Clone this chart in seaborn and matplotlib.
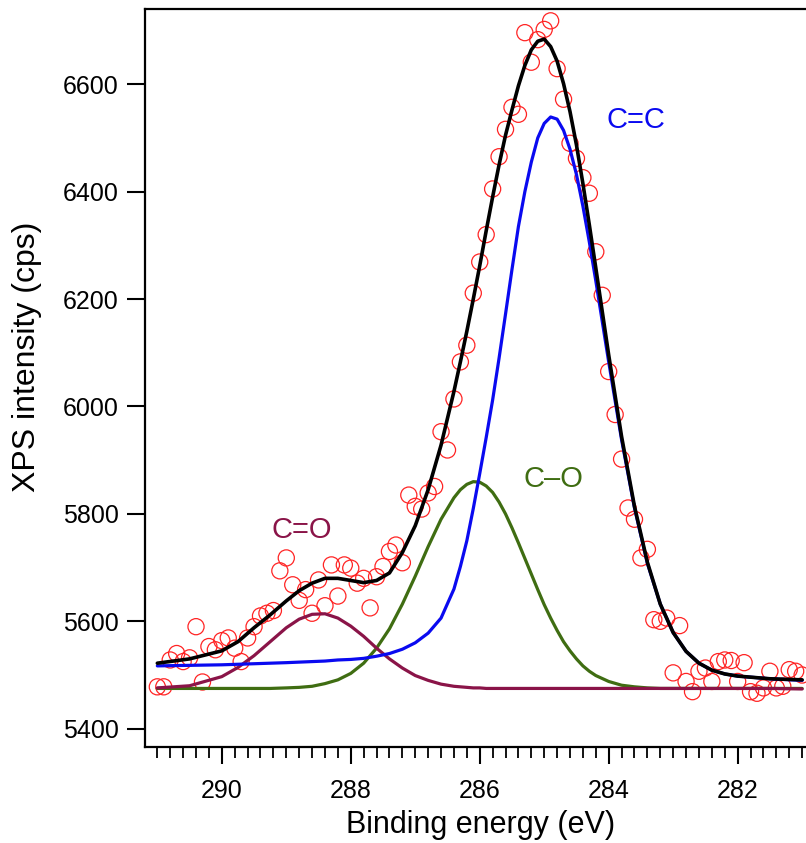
import numpy as np
import pandas as pd
import seaborn as sns
import matplotlib.pyplot as plt
from matplotlib.ticker import MultipleLocator

# measured C 1s points (binding energy in eV, counts per second)
energy = [291.0, 290.9, 290.8, 290.7, 290.6, 290.5, 290.4, 290.3, 290.2, 290.1,
          290.0, 289.9, 289.8, 289.7, 289.6, 289.5, 289.4, 289.3, 289.2, 289.1,
          289.0, 288.9, 288.8, 288.7, 288.6, 288.5, 288.4, 288.3, 288.2, 288.1,
          288.0, 287.9, 287.8, 287.7, 287.6, 287.5, 287.4, 287.3, 287.2, 287.1,
          287.0, 286.9, 286.8, 286.7, 286.6, 286.5, 286.4, 286.3, 286.2, 286.1,
          286.0, 285.9, 285.8, 285.7, 285.6, 285.5, 285.4, 285.3, 285.2, 285.1,
          285.0, 284.9, 284.8, 284.7, 284.6, 284.5, 284.4, 284.3, 284.2, 284.1,
          284.0, 283.9, 283.8, 283.7, 283.6, 283.5, 283.4, 283.3, 283.2, 283.1,
          283.0, 282.9, 282.8, 282.7, 282.6, 282.5, 282.4, 282.3, 282.2, 282.1,
          282.0, 281.9, 281.8, 281.7, 281.6, 281.5, 281.4, 281.3, 281.2, 281.1,
          281.0]
counts = [5478, 5478, 5528, 5540, 5525, 5532, 5590, 5487, 5553, 5547,
          5564, 5569, 5550, 5525, 5569, 5590, 5610, 5615, 5620, 5694,
          5718, 5668, 5639, 5659, 5615, 5677, 5629, 5705, 5647, 5705,
          5699, 5671, 5680, 5625, 5683, 5702, 5730, 5742, 5709, 5835,
          5814, 5809, 5839, 5851, 5953, 5919, 6014, 6083, 6114, 6211,
          6269, 6320, 6405, 6465, 6516, 6557, 6544, 6696, 6641, 6683,
          6702, 6718, 6629, 6572, 6490, 6462, 6426, 6397, 6288, 6207,
          6065, 5985, 5902, 5811, 5790, 5718, 5734, 5603, 5600, 5606,
          5504, 5592, 5488, 5469, 5507, 5513, 5488, 5525, 5528, 5527,
          5488, 5523, 5469, 5466, 5476, 5507, 5476, 5479, 5510, 5507,
          5500]

fit_energy = [291.0, 290.5, 290.0, 289.75, 289.5, 289.25, 289.0, 288.8, 288.6, 288.4,
              288.2, 288.0, 287.8, 287.6, 287.4, 287.2, 287.0, 286.8, 286.6, 286.4,
              286.3, 286.2, 286.1, 286.0, 285.9, 285.8, 285.7, 285.6, 285.5, 285.4,
              285.3, 285.2, 285.1, 285.0, 284.9, 284.8, 284.7, 284.6, 284.5, 284.4,
              284.3, 284.2, 284.0, 283.8, 283.6, 283.4, 283.2, 283.0, 282.8, 282.6,
              282.4, 282.2, 282.0, 281.5, 281.0]
fit_total = [5522, 5530, 5545, 5562, 5588, 5612, 5638, 5657, 5671, 5680,
             5680, 5676, 5672, 5676, 5690, 5728, 5778, 5845, 5928, 6028,
             6083, 6140, 6200, 6262, 6327, 6390, 6450, 6505, 6552, 6597,
             6635, 6664, 6680, 6684, 6670, 6643, 6601, 6549, 6487, 6415,
             6338, 6258, 6096, 5944, 5814, 5710, 5632, 5579, 5544, 5522,
             5509, 5502, 5498, 5493, 5491]
fit_cc = [5517, 5518, 5519, 5520, 5521, 5522, 5523, 5524, 5525, 5526,
          5528, 5529, 5531, 5535, 5540, 5548, 5560, 5578, 5606, 5660,
          5702, 5750, 5810, 5875, 5942, 6012, 6090, 6172, 6255, 6335,
          6400, 6455, 6500, 6527, 6539, 6535, 6514, 6479, 6432, 6373,
          6306, 6234, 6083, 5938, 5811, 5708, 5632, 5579, 5544, 5522,
          5509, 5502, 5498, 5493, 5490]
fit_co = [5475, 5475, 5475, 5475, 5475, 5475, 5476, 5477, 5479, 5484,
          5491, 5503, 5522, 5550, 5586, 5632, 5684, 5739, 5790, 5830,
          5845, 5855, 5860, 5859, 5852, 5840, 5822, 5800, 5774, 5746,
          5717, 5688, 5659, 5631, 5606, 5583, 5562, 5545, 5530, 5517,
          5507, 5499, 5488, 5481, 5478, 5476, 5475, 5475, 5475, 5475,
          5475, 5475, 5475, 5475, 5475]
fit_c_dbl_o = [5476, 5480, 5497, 5514, 5536, 5562, 5588, 5604, 5613, 5614,
               5606, 5591, 5572, 5550, 5530, 5513, 5499, 5490, 5483, 5479,
               5478, 5477, 5476, 5476, 5475, 5475, 5475, 5475, 5475, 5475,
               5475, 5475, 5475, 5475, 5475, 5475, 5475, 5475, 5475, 5475,
               5475, 5475, 5475, 5475, 5475, 5475, 5475, 5475, 5475, 5475,
               5475, 5475, 5475, 5475, 5474]

red = '#ff2424'
blue = '#0a0af0'
green = '#3f6d12'
maroon = '#8a1448'

sns.set_style('ticks', {'axes.edgecolor': 'black', 'xtick.color': 'black',
                        'ytick.color': 'black', 'text.color': 'black',
                        'axes.labelcolor': 'black'})
plt.rcParams['font.family'] = ['Liberation Sans', 'DejaVu Sans']

fig = plt.figure(figsize=(8.06, 8.43), dpi=100)
ax = fig.add_axes([0.18, 0.1139, 0.82, 0.8754])

sns.scatterplot(x=energy, y=counts, ax=ax, marker='o', s=135,
                facecolors='none', edgecolor=red, linewidth=0.9, zorder=1)

sns.lineplot(x=fit_energy, y=fit_co, ax=ax, color=green, lw=2.3, sort=False, zorder=2)
sns.lineplot(x=fit_energy, y=fit_c_dbl_o, ax=ax, color=maroon, lw=2.3, sort=False, zorder=3)
sns.lineplot(x=fit_energy, y=fit_cc, ax=ax, color=blue, lw=2.3, sort=False, zorder=4)
sns.lineplot(x=fit_energy, y=fit_total, ax=ax, color='black', lw=2.6, sort=False, zorder=5)

ax.text(283.58, 6518, 'C=C', color=blue, fontsize=21, ha='center', va='baseline')
ax.text(288.755, 5755, 'C=O', color=maroon, fontsize=21, ha='center', va='baseline')
ax.text(284.86, 5850, 'C\u2013O', color=green, fontsize=21, ha='center', va='baseline')

ax.set_xlim(291.19, 280.94)
ax.set_ylim(5366, 6740)
ax.set_xticks([290, 288, 286, 284, 282])
ax.xaxis.set_minor_locator(MultipleLocator(0.2))
ax.set_yticks([5400, 5600, 5800, 6000, 6200, 6400, 6600])

ax.tick_params(axis='x', which='major', length=12, width=1.5, pad=11, labelsize=18)
ax.tick_params(axis='x', which='minor', length=8, width=1.3)
ax.tick_params(axis='y', which='major', length=13, width=1.5, pad=6, labelsize=18)

for side in ['top', 'left', 'bottom']:
    ax.spines[side].set_linewidth(1.6)
ax.spines['right'].set_visible(False)

ax.set_xlabel('Binding energy (eV)', fontsize=22)
ax.set_ylabel('XPS intensity (cps)', fontsize=23)
ax.xaxis.set_label_coords(0.507, -0.085)
ax.yaxis.set_label_coords(-0.156, 0.5285)

fig.savefig('out.png', dpi=100)
